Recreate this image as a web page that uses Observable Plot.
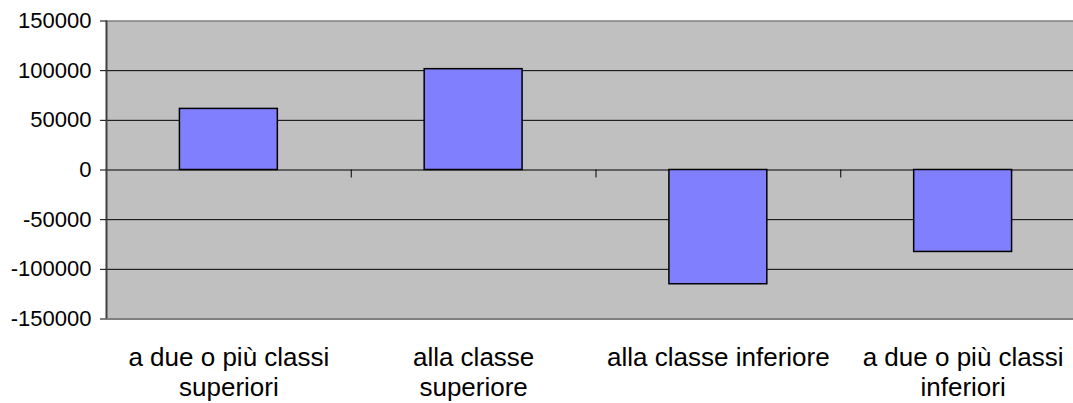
<!DOCTYPE html>
<html>
<head>
<meta charset="utf-8">
<script src="https://cdn.jsdelivr.net/npm/d3@7"></script>
<script src="https://cdn.jsdelivr.net/npm/@observablehq/plot@0.6"></script>
<style>
  html, body { margin: 0; padding: 0; background: white; overflow: hidden; }
  #chart svg { overflow: hidden; }
</style>
</head>
<body>
<div id="chart"></div>
<script>
const categories = [
  "a due o più classi superiori",
  "alla classe superiore",
  "alla classe inferiore",
  "a due o più classi inferiori"
];
const tickLabels = [
  "a due o più classi\nsuperiori",
  "alla classe\nsuperiore",
  "alla classe inferiore",
  "a due o più classi\ninferiori"
];
const values = [61500, 101500, -115000, -82500];
const yTicks = [-150000, -100000, -50000, 0, 50000, 100000, 150000];

const data = categories.map((c, i) => ({ category: c, index: i, value: values[i], label: tickLabels[i] }));
const boundaries = categories.map((c, i) => i);

const chart = Plot.plot({
  width: 1073,
  height: 403,
  marginLeft: 106,
  marginRight: -12,
  marginTop: 20.5,
  marginBottom: 84.5,
  x: { domain: [0, categories.length], axis: null },
  y: { domain: [-150000, 150000], axis: null },
  style: { fontFamily: "'Liberation Sans', Arial, sans-serif", background: "white", color: "black" },
  marks: [
    Plot.frame({ fill: "#c0c0c0", stroke: null }),
    Plot.ruleY(yTicks.filter(t => t > -150000 && t < 150000), { stroke: "#000", strokeWidth: 1 }),
    Plot.ruleY([150000], { stroke: "#808080", strokeWidth: 1.5 }),
    Plot.ruleY([-150000], { stroke: "#808080", strokeWidth: 2 }),
    Plot.rectY(data, {
      x1: d => d.index + 0.3,
      x2: d => d.index + 0.7,
      y1: 0,
      y2: "value",
      fill: "#8080ff",
      stroke: "#000",
      strokeWidth: 1.5
    }),
    Plot.ruleX(boundaries, { y1: 0, y2: 0, insetBottom: -8, stroke: "#000", strokeWidth: 1 }),
    Plot.ruleX([0], { stroke: "#404040", strokeWidth: 2 }),
    Plot.axisY({
      ticks: yTicks,
      tickSize: 6,
      tickPadding: 9,
      fontSize: 22,
      label: null,
      tickFormat: d => String(d),
      stroke: "#000"
    }),
    Plot.text(data, {
      x: d => d.index + 0.5,
      text: "label",
      frameAnchor: "bottom",
      lineAnchor: "top",
      dy: 26,
      fontSize: 26,
      lineHeight: 1.154,
      fill: "#000"
    })
  ]
});
document.getElementById("chart").appendChild(chart);
</script>
</body>
</html>
